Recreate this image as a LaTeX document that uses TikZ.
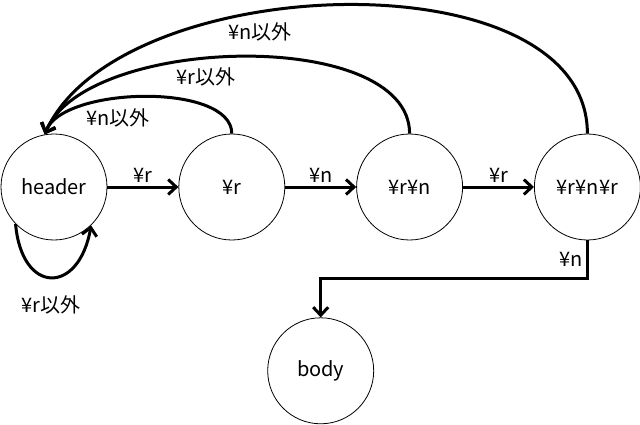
\documentclass[tikz,border=0pt]{standalone}
\usepackage{fontspec}
\setmainfont{Noto Sans CJK JP}
\usetikzlibrary{positioning,arrows.meta,calc}

\begin{document}
\begin{tikzpicture}[
    x=1pt, y=1pt, font=\fontsize{20}{22}\selectfont,
    >={Straight Barb[length=8pt, width=15pt]}, node distance=71pt,
    state/.style={draw, circle, line width=0.8pt, minimum size=106pt, inner sep=0pt},
    edge/.style={->, line width=3pt}]
  \useasboundingbox (0,0) rectangle (640,424);
  \node[state] (header) at (54,237) {header};
  \node[state, right=of header] (r) {¥r};
  \node[state, right=of r] (rn) {¥r¥n};
  \node[state, right=of rn] (rnr) {¥r¥n¥r};
  \node[state, below=77pt of $(r.south)!0.5!(rn.south)$] (body) {body};
  \draw[edge] (header) -- node[above] {¥r} (r);
  \draw[edge] (r) -- node[above] {¥n} (rn);
  \draw[edge] (rn) -- node[above] {¥r} (rnr);
  \draw[edge] (rnr.south) -- node[left] {¥n} ++(0,-38) -| (body.north);
  % back to header
  \draw[edge] (r.north) to[out=90, in=70, looseness=0.7] node[pos=0.6, below=5pt] {¥n以外} (header.100);
  \draw[edge] (rn.north) to[out=90, in=68, looseness=0.75] node[pos=0.57, below=4pt] {¥r以外} (header.100);
  \draw[edge] (rnr.north) to[out=90, in=66, looseness=0.85] node[pos=0.61, below=5pt] {¥n以外} (header.100);
  \draw[edge] (header.224) to[out=275, in=260, looseness=2.4] node[below=13pt] {¥r以外} (header.314);
\end{tikzpicture}
\end{document}
